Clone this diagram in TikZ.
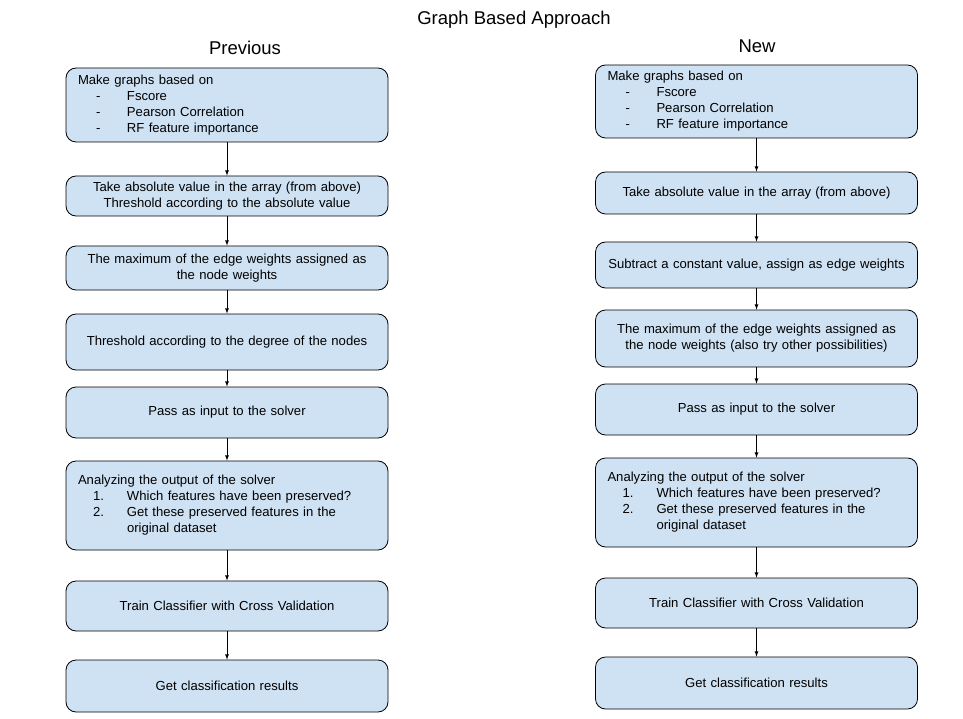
\documentclass[tikz,border=0pt]{standalone}
\usepackage{fontspec}
\setmainfont{Liberation Sans}
\usepackage{xcolor}
\definecolor{boxblue}{HTML}{CFE2F3}
\usetikzlibrary{arrows}

% one line of a list inside a box: marker, then text
\newcommand{\dashitem}[1]{\hspace*{18pt}\makebox[31pt][l]{-}#1}
\newcommand{\numitem}[2]{\hspace*{15pt}\makebox[34pt][l]{#1}#2}

\begin{document}
\begin{tikzpicture}[x=1pt, y=-1pt, >=latex, thick, line width=0.8pt,
	stepbox/.style={rectangle, rounded corners=10pt, draw=black, fill=boxblue,
		minimum width=322pt, text width=298pt, inner xsep=12pt, inner ysep=3pt,
		align=center, font=\fontsize{13.1}{16}\selectfont},
	listbox/.style={stepbox, align=left},
	heading/.style={font=\fontsize{18.5}{22}\selectfont}]

	\useasboundingbox (0,0) rectangle (963,719);

	\node[heading](title) at (514,20) {Graph Based Approach};
	\node[heading](prev) at (245,48) {Previous};
	\node[heading](new) at (757,46) {New};

	% linke Spalte
	\node[listbox, minimum height=74pt](l1) at (227,105) {Make graphs based on\\
		\dashitem{Fscore}\\ \dashitem{Pearson Correlation}\\ \dashitem{RF feature importance}};
	\node[stepbox, minimum height=40pt](l2) at (227,196) {Take absolute value in the array (from above)\\ Threshold according to the absolute value};
	\node[stepbox, minimum height=44pt](l3) at (227,268) {The maximum of the edge weights assigned as\\ the node weights};
	\node[stepbox, minimum height=56pt](l4) at (227,342) {Threshold according to the degree of the nodes};
	\node[stepbox, minimum height=51pt](l5) at (227,412.5) {Pass as input to the solver};
	\node[listbox, minimum height=89pt](l6) at (227,505.5) {Analyzing the output of the solver\\
		\numitem{1.}{Which features have been preserved?}\\ \numitem{2.}{Get these preserved features in the}\\ \hspace*{49pt}original dataset};
	\node[stepbox, minimum height=50pt](l7) at (227,606) {Train Classifier with Cross Validation};
	\node[stepbox, minimum height=52pt](l8) at (227,686) {Get classification results};

	% rechte Spalte
	\node[listbox, minimum height=73pt](r1) at (756.5,101.5) {Make graphs based on\\
		\dashitem{Fscore}\\ \dashitem{Pearson Correlation}\\ \dashitem{RF feature importance}};
	\node[stepbox, minimum height=42pt](r2) at (756.5,193) {Take absolute value in the array (from above)};
	\node[stepbox, minimum height=46pt, text width=312pt, inner xsep=5pt](r3) at (756.5,265) {Subtract a constant value, assign as edge weights};
	\node[stepbox, minimum height=57pt](r4) at (756.5,338.5) {The maximum of the edge weights assigned as\\ the node weights (also try other possibilities)};
	\node[stepbox, minimum height=51pt](r5) at (756.5,409.5) {Pass as input to the solver};
	\node[listbox, minimum height=89pt](r6) at (756.5,502.5) {Analyzing the output of the solver\\
		\numitem{1.}{Which features have been preserved?}\\ \numitem{2.}{Get these preserved features in the}\\ \hspace*{49pt}original dataset};
	\node[stepbox, minimum height=50pt](r7) at (756.5,603) {Train Classifier with Cross Validation};
	\node[stepbox, minimum height=52pt](r8) at (756.5,683) {Get classification results};

	% Pfeile
	\foreach \a/\b in {l1/l2, l2/l3, l3/l4, l4/l5, l5/l6, l6/l7, l7/l8,
		r1/r2, r2/r3, r3/r4, r4/r5, r5/r6, r6/r7, r7/r8}
		\draw[->, line width=0.8pt] (\a) -- (\b);
\end{tikzpicture}
\end{document}
